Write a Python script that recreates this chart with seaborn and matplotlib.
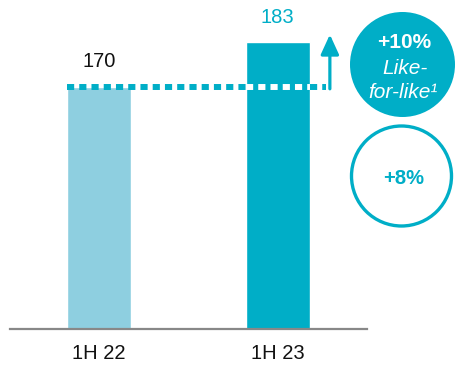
import matplotlib
matplotlib.use("Agg")
import matplotlib.pyplot as plt
import seaborn as sns
from matplotlib.patches import Ellipse

sns.set_theme(style="white")
plt.rcParams["font.family"] = ["Liberation Sans", "DejaVu Sans"]

# Data
periods = ["1H 22", "1H 23"]
revenue = [170, 183]
value_labels = ["170", "183"]
lfl_growth = "+10%"
reported_growth = "+8%"

LIGHT = "#8ECFE0"
TEAL = "#00AEC7"
GREY = "#888888"

W, H = 456, 367
fig = plt.figure(figsize=(W / 100, H / 100), dpi=100)

# Main bar axes (axis starts at 100)
ax = fig.add_axes([10 / W, (H - 329) / H, 357 / W, 329 / H])
sns.barplot(x=periods, y=revenue, hue=periods, palette=[LIGHT, TEAL],
            width=0.36, legend=False, ax=ax, saturation=1)
ax.set_xlim(-0.5, 1.5)
ax.set_ylim(100, 195.2)
for s in ["top", "left", "right"]:
    ax.spines[s].set_visible(False)
ax.spines["bottom"].set_color(GREY)
ax.spines["bottom"].set_linewidth(1.6)
ax.set_yticks([])
ax.tick_params(axis="x", length=0, pad=11, labelsize=14.5, colors="#111111")
ax.set_xlabel("")
ax.set_ylabel("")

# Value labels
ax.text(0, revenue[0] + 7.5, value_labels[0], ha="center", va="center",
        fontsize=14.5, color="#111111")
ax.text(1, revenue[1] + 7, value_labels[1], ha="center", va="center",
        fontsize=14.5, color=TEAL)

# Dotted reference line at the 1H 22 level
half = 0.36 / 2
x_end = 1.292
dash = dict(lw=4.3, linestyle=(0, (1.2, 0.85)), dash_capstyle="butt",
            solid_capstyle="butt")
ax.plot([-half, 1 - half], [revenue[0]] * 2, color=TEAL, zorder=5, **dash)
ax.plot([1 - half, 1 + half], [revenue[0]] * 2, color="white", zorder=5, **dash)
ax.plot([1 + half, x_end - 0.02], [revenue[0]] * 2, color=TEAL, zorder=5, **dash)

# Upward arrow
ax.annotate("", xy=(x_end, 185.2), xytext=(x_end, revenue[0] - 0.5),
            arrowprops=dict(arrowstyle="-|>,head_length=1.2,head_width=0.55",
                            lw=2.3, color=TEAL, mutation_scale=10,
                            shrinkA=0, shrinkB=0),
            annotation_clip=False)

# Overlay in pixel coordinates for the growth badges
ov = fig.add_axes([0, 0, 1, 1], zorder=10)
ov.set_xlim(0, W)
ov.set_ylim(H, 0)
ov.axis("off")
ov.patch.set_alpha(0)

ov.add_patch(Ellipse((402.5, 64.5), 105, 105, facecolor=TEAL, edgecolor="none"))
ov.text(404, 43, lfl_growth, ha="center", va="center", fontsize=15,
        fontweight="bold", color="white")
ov.text(405, 68, "Like-", ha="center", va="center", fontsize=15,
        fontstyle="italic", color="white")
ov.text(403, 93, "for-like\u00b9", ha="center", va="center", fontsize=15,
        fontstyle="italic", color="white")

ov.add_patch(Ellipse((401.5, 176), 100, 100, facecolor="none",
                     edgecolor=TEAL, lw=2.4))
ov.text(404, 179, reported_growth, ha="center", va="center", fontsize=14.5,
        fontweight="bold", color=TEAL)

fig.savefig("out.png", dpi=100)
